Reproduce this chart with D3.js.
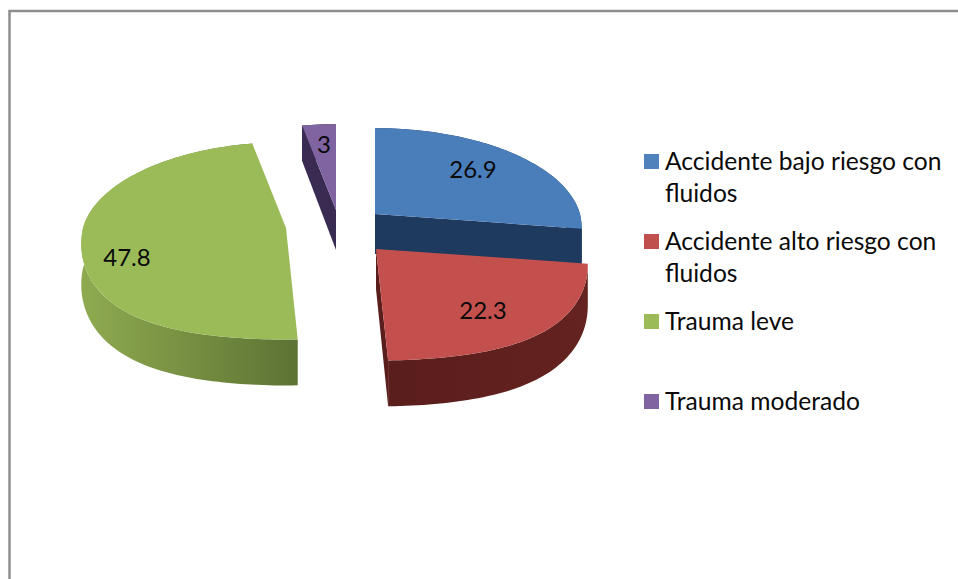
<!DOCTYPE html>
<html>
<head>
<meta charset="utf-8">
<script src="https://d3js.org/d3.v7.min.js"></script>
<style>
  html, body { margin: 0; padding: 0; background: #fff; overflow: hidden; }
  text { font-family: Lato, "Open Sans", sans-serif; fill: #0a0a0a; }
</style>
</head>
<body>
<div id="chart"></div>
<script>
var width = 958,
    height = 579

// data
var categories = ['Accidente bajo riesgo con fluidos', 'Accidente alto riesgo con fluidos', 'Trauma leve', 'Trauma moderado']
var values = [26.9, 22.3, 47.8, 3]
var labels = ['26.9', '22.3', '47.8', '3']

// look of each slice
var topColors = ['#4a7ebb', '#c4504e', '#9bbb59', '#8064a2']
var sideLeft = ['#1e3a5f', '#5a1e1c', '#8fab50', '#3a2b52']
var sideRight = ['#1e3a5f', '#642220', '#5d7233', '#3a2b52']
var legendColors = ['#4f81bd', '#c0504d', '#9bbb59', '#8064a2']

// exploded slice apex, x radius and label centre
var apexX = [375, 376, 286, 336]
var apexY = [214, 249, 228, 210]
var radiusX = [205, 210, 203, 204]
var labelX = [473, 483, 127, 324]
var labelY = [170, 311, 258, 145]

var radiusY = 97,
    depth = 40,
    perspective = 0.13,
    nearBulge = 0.25

var svg = d3.select('#chart').append('svg')
    .attr('width', width)
    .attr('height', height)

// frame, it runs off the page on the right and at the bottom
svg.append('path')
    .attr('d', 'M9.5,' + height + 'V11H' + width)
    .attr('fill', 'none')
    .attr('stroke', '#8e8e8e')
    .attr('stroke-width', 2.5)

var defs = svg.append('defs')
defs.selectAll('linearGradient')
    .data(categories)
    .enter().append('linearGradient')
    .attr('id', function (d, i) { return 'side' + i })
    .each(function (d, i) {
      var g = d3.select(this)
      g.append('stop').attr('offset', '0%').attr('stop-color', sideLeft[i])
      g.append('stop').attr('offset', '100%').attr('stop-color', sideRight[i])
    })

var pie = d3.pie().sort(null)
var slices = pie(values)

// tilted disc with a bit of perspective, near edge comes out bigger
// and rounder than a true ellipse
function project(i, angle, r, drop) {
  var X = Math.sin(angle) * r,
      Z = -Math.cos(angle) * r,
      f = 1 / (1 - perspective * Z),
      bulge = Z > 0 ? 1 + nearBulge * X * X : 1
  return [apexX[i] + radiusX[i] * X * f, apexY[i] + radiusY * Z * bulge * f + depth * drop * f]
}

var line = d3.line()

function rim(i, s, drop) {
  var n = Math.max(4, Math.ceil((s.endAngle - s.startAngle) * 40))
  return d3.range(n + 1).map(function (k) {
    return project(i, s.startAngle + (s.endAngle - s.startAngle) * k / n, 1, drop)
  })
}

function topPath(i, s) {
  return line([project(i, 0, 0, 0)].concat(rim(i, s, 0))) + 'Z'
}
function sidePath(i, s) {
  return line(rim(i, s, 0).concat(rim(i, s, 1).reverse())) + 'Z'
}
// flat cut face going from the apex out to the rim at one angle
function cutPath(i, angle) {
  return line([project(i, 0, 0, 0), project(i, angle, 1, 0), project(i, angle, 1, 1), project(i, 0, 0, 1)]) + 'Z'
}

// back to front
var order = [3, 2, 0, 1]
var gSlices = svg.selectAll('g.slice')
    .data(order)
    .enter().append('g')
    .attr('class', 'slice')

gSlices.append('path')
    .attr('d', function (i) { return sidePath(i, slices[i]) })
    .attr('fill', function (i) { return 'url(#side' + i + ')' })

// blue shows its end cut, red too, purple shows its start cut
gSlices.filter(function (i) { return i !== 2 })
    .append('path')
    .attr('d', function (i) {
      return cutPath(i, i === 3 ? slices[i].startAngle : slices[i].endAngle)
    })
    .attr('fill', function (i) { return sideLeft[i] })

gSlices.append('path')
    .attr('d', function (i) { return topPath(i, slices[i]) })
    .attr('fill', function (i) { return topColors[i] })

gSlices.append('text')
    .attr('x', function (i) { return labelX[i] })
    .attr('y', function (i) { return labelY[i] })
    .attr('dy', '.35em')
    .attr('text-anchor', 'middle')
    .style('font-size', '24px')
    .text(function (i) { return labels[i] })

// legend
var legendY = d3.scalePoint().domain(categories).range([170, 410])

var legend = svg.selectAll('g.legend')
    .data(categories)
    .enter().append('g')
    .attr('class', 'legend')
    .attr('transform', function (d) { return 'translate(644,' + legendY(d) + ')' })

legend.append('rect')
    .attr('y', -16)
    .attr('width', 15)
    .attr('height', 15)
    .attr('fill', function (d, i) { return legendColors[i] })

legend.append('text')
    .attr('x', 21)
    .style('font-size', '24.6px')
    .each(function (d) {
      var text = d3.select(this),
          words = d.split(' '),
          row = [],
          lineNo = 0,
          tspan = text.append('tspan').attr('x', 21).attr('y', 0)
      words.forEach(function (w) {
        row.push(w)
        tspan.text(row.join(' '))
        if (tspan.node().getComputedTextLength() > 285) {
          row.pop()
          tspan.text(row.join(' '))
          row = [w]
          lineNo++
          tspan = text.append('tspan').attr('x', 21).attr('y', lineNo * 32).text(w)
        }
      })
    })
</script>
</body>
</html>
